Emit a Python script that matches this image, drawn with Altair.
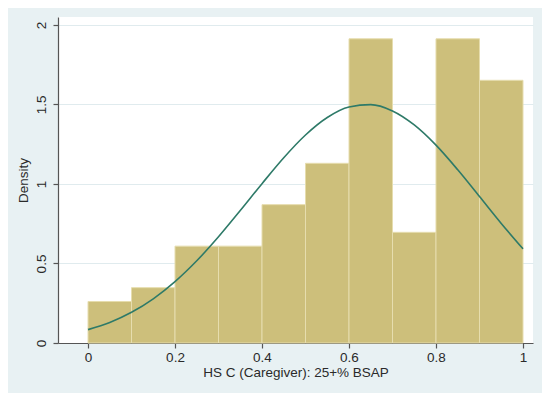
import altair as alt
import pandas as pd

# Histogram bins (bin width 0.1) and their densities
bin_start = [0.0, 0.1, 0.2, 0.3, 0.4, 0.5, 0.6, 0.7, 0.8, 0.9]
bin_end = [0.1, 0.2, 0.3, 0.4, 0.5, 0.6, 0.7, 0.8, 0.9, 1.0]
density = [0.261, 0.348, 0.609, 0.609, 0.870, 1.130, 1.913, 0.696, 1.913, 1.652]

# Normal density curve
curve_x = [0.0, 0.05, 0.1, 0.15, 0.2, 0.25, 0.3, 0.35, 0.4, 0.45, 0.5,
           0.55, 0.6, 0.65, 0.7, 0.75, 0.8, 0.85, 0.9, 0.95, 1.0]
curve_y = [0.084, 0.129, 0.193, 0.278, 0.386, 0.517, 0.668, 0.833, 1.002, 1.165, 1.308,
           1.418, 1.484, 1.499, 1.459, 1.371, 1.244, 1.089, 0.921, 0.752, 0.592]

x_ticks = [0, 0.2, 0.4, 0.6, 0.8, 1]
y_ticks = [0, 0.5, 1, 1.5, 2]

bars_df = pd.DataFrame({"start": bin_start, "end": bin_end, "density": density})
curve_df = pd.DataFrame({"x": curve_x, "y": curve_y})

FONT = "Liberation Sans"

x_scale = alt.Scale(domain=[-0.069, 1.023], nice=False, zero=False)
y_scale = alt.Scale(domain=[0, 2.05], nice=False)

x_axis = alt.Axis(values=x_ticks, format="~g", title="HS C (Caregiver): 25+% BSAP",
                  grid=False, tickSize=5, labelPadding=2, titlePadding=2)
y_axis = alt.Axis(values=y_ticks, format="~g", title="Density", grid=True,
                  labelAngle=270, labelAlign="center", labelBaseline="bottom",
                  tickSize=5, labelPadding=5, titlePadding=4)

bars = alt.Chart(bars_df).mark_rect(
    color="#cdbf7b", stroke="#e6ddae", strokeWidth=1
).encode(
    x=alt.X("start:Q", scale=x_scale, axis=x_axis),
    x2="end:Q",
    y=alt.Y("density:Q", scale=y_scale, axis=y_axis),
    y2=alt.datum(0),
)

curve = alt.Chart(curve_df).mark_line(
    color="#2e7a68", strokeWidth=1.6, interpolate="monotone"
).encode(
    x=alt.X("x:Q", scale=x_scale),
    y=alt.Y("y:Q", scale=y_scale),
)

chart = alt.layer(bars, curve).properties(
    width=475, height=326,
    autosize=alt.AutoSizeParams(type="none"),
    padding={"left": 50, "top": 9, "right": 9, "bottom": 50},
    background="#e8f1f3",
).configure_view(
    fill="white", stroke=None
).configure_axis(
    labelFont=FONT, titleFont=FONT, labelFontSize=13.5, titleFontSize=13.5,
    titleFontWeight="normal", labelColor="#2a2a2a", titleColor="#2a2a2a",
    domainColor="#555555", tickColor="#555555", gridColor="#e0ebee",
    domainWidth=1.2, tickWidth=1.2,
)

chart.save("out.html", embed_options={"renderer": "svg", "actions": False})
